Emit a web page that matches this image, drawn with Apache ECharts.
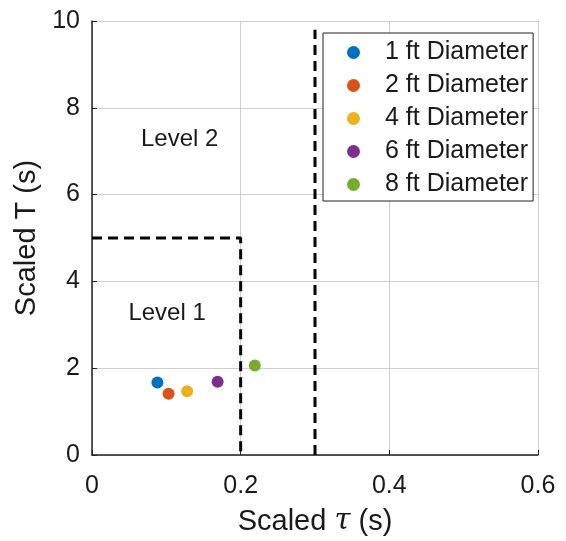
<!DOCTYPE html>
<html>
  <head>
    <meta charset="utf-8">
    <title>Scaled T vs tau</title>
    <style>
    html,body,#chart {
      margin: 0;
      padding: 0;
      width: 566px;
      height: 541px;
      background: #fff;
    }
    </style>
  </head>
  <body>
    <div id="chart"></div>
    <script src="https://cdn.jsdelivr.net/npm/echarts@6/dist/echarts.min.js"></script>
    <script type="text/javascript">
var seriesNames = ['1 ft Diameter', '2 ft Diameter', '4 ft Diameter', '6 ft Diameter', '8 ft Diameter']
var colors = ['#0072BD', '#D95319', '#EDB120', '#7E2F8E', '#77AC30']
var tauVals = [0.088, 0.103, 0.128, 0.169, 0.219]
var tVals = [1.67, 1.41, 1.47, 1.69, 2.06]

// level boundaries
var level1Box = [[0, 5], [0.2, 5], [0.2, 0]]
var level2Line = [[0.3, 0], [0.3, 9.8]]
var levelLabels = [{name: 'Level 2', pos: [0.118, 7.27]}, {name: 'Level 1', pos: [0.101, 3.26]}]

var xTicks = [0, 0.2, 0.4, 0.6]
var yTicks = [0, 2, 4, 6, 8, 10]

var font = '"Liberation Sans", Arial, sans-serif'
var chart = echarts.init(document.getElementById('chart'))

var series = seriesNames.map(function (name, i) {
    return {
        name: name,
        type: 'scatter',
        data: [[tauVals[i], tVals[i]]],
        symbol: 'circle',
        symbolSize: 12,
        itemStyle: {color: colors[i], opacity: 1},
        z: 5
    }
})

var dashStyle = {color: '#000', width: 3, type: [10, 6]}
series.push({
    type: 'line', data: level1Box, symbol: 'none', lineStyle: dashStyle,
    silent: true, z: 3
})
series.push({
    type: 'line', data: level2Line, symbol: 'none', lineStyle: dashStyle,
    silent: true, z: 3
})
series.push({
    type: 'scatter',
    data: levelLabels.map(function (d) { return {value: d.pos, name: d.name} }),
    symbolSize: 1,
    silent: true,
    itemStyle: {opacity: 0},
    label: {
        show: true,
        position: 'inside',
        formatter: '{b}',
        color: '#1a1a1a',
        opacity: 1,
        fontSize: 24,
        fontFamily: font
    }
})

chart.setOption({
    animation: false,
    grid: {left: 92, right: 28, top: 21, bottom: 84},
    legend: {
        data: seriesNames.map(function (n) { return {name: n, icon: 'circle'} }),
        orient: 'vertical',
        left: 323,
        top: 33,
        itemWidth: 13,
        itemHeight: 13,
        itemGap: 8,
        padding: [7, 5, 4, 24],
        borderColor: '#222',
        borderWidth: 1,
        backgroundColor: '#fff',
        textStyle: {fontSize: 25, fontFamily: font, color: '#1a1a1a', padding: [0, 0, 0, 20]}
    },
    xAxis: {
        type: 'value',
        min: 0, max: 0.6, interval: 0.2,
        name: 'Scaled {i|τ} (s)',
        nameLocation: 'middle',
        nameGap: 52,
        nameTextStyle: {
            fontSize: 29, fontFamily: font, color: '#1a1a1a',
            rich: {i: {fontSize: 29, fontStyle: 'italic', fontFamily: 'DejaVu Serif, serif', color: '#1a1a1a'}}
        },
        axisLine: {onZero: false, lineStyle: {color: '#222', width: 1.5}},
        axisTick: {inside: true, length: 5, lineStyle: {color: '#222'}},
        axisLabel: {
            fontSize: 25, fontFamily: font, color: '#1a1a1a', margin: 19,
            formatter: function (v) { return xTicks.indexOf(Math.round(v * 10) / 10) >= 0 ? String(Math.round(v * 10) / 10) : '' }
        },
        splitLine: {lineStyle: {color: '#cfcfcf', width: 1}}
    },
    yAxis: {
        type: 'value',
        min: 0, max: 10, interval: 2,
        name: 'Scaled T (s)',
        nameLocation: 'middle',
        nameGap: 51,
        nameTextStyle: {fontSize: 29, fontFamily: font, color: '#1a1a1a'},
        axisLine: {show: true, onZero: false, lineStyle: {color: '#222', width: 1.5}},
        axisTick: {show: true, inside: true, length: 5, lineStyle: {color: '#222'}},
        axisLabel: {
            fontSize: 25, fontFamily: font, color: '#1a1a1a', margin: 12,
            formatter: function (v) { return yTicks.indexOf(v) >= 0 ? String(v) : '' }
        },
        splitLine: {lineStyle: {color: '#cfcfcf', width: 1}}
    },
    series: series
})
</script>
  </body>
</html>
